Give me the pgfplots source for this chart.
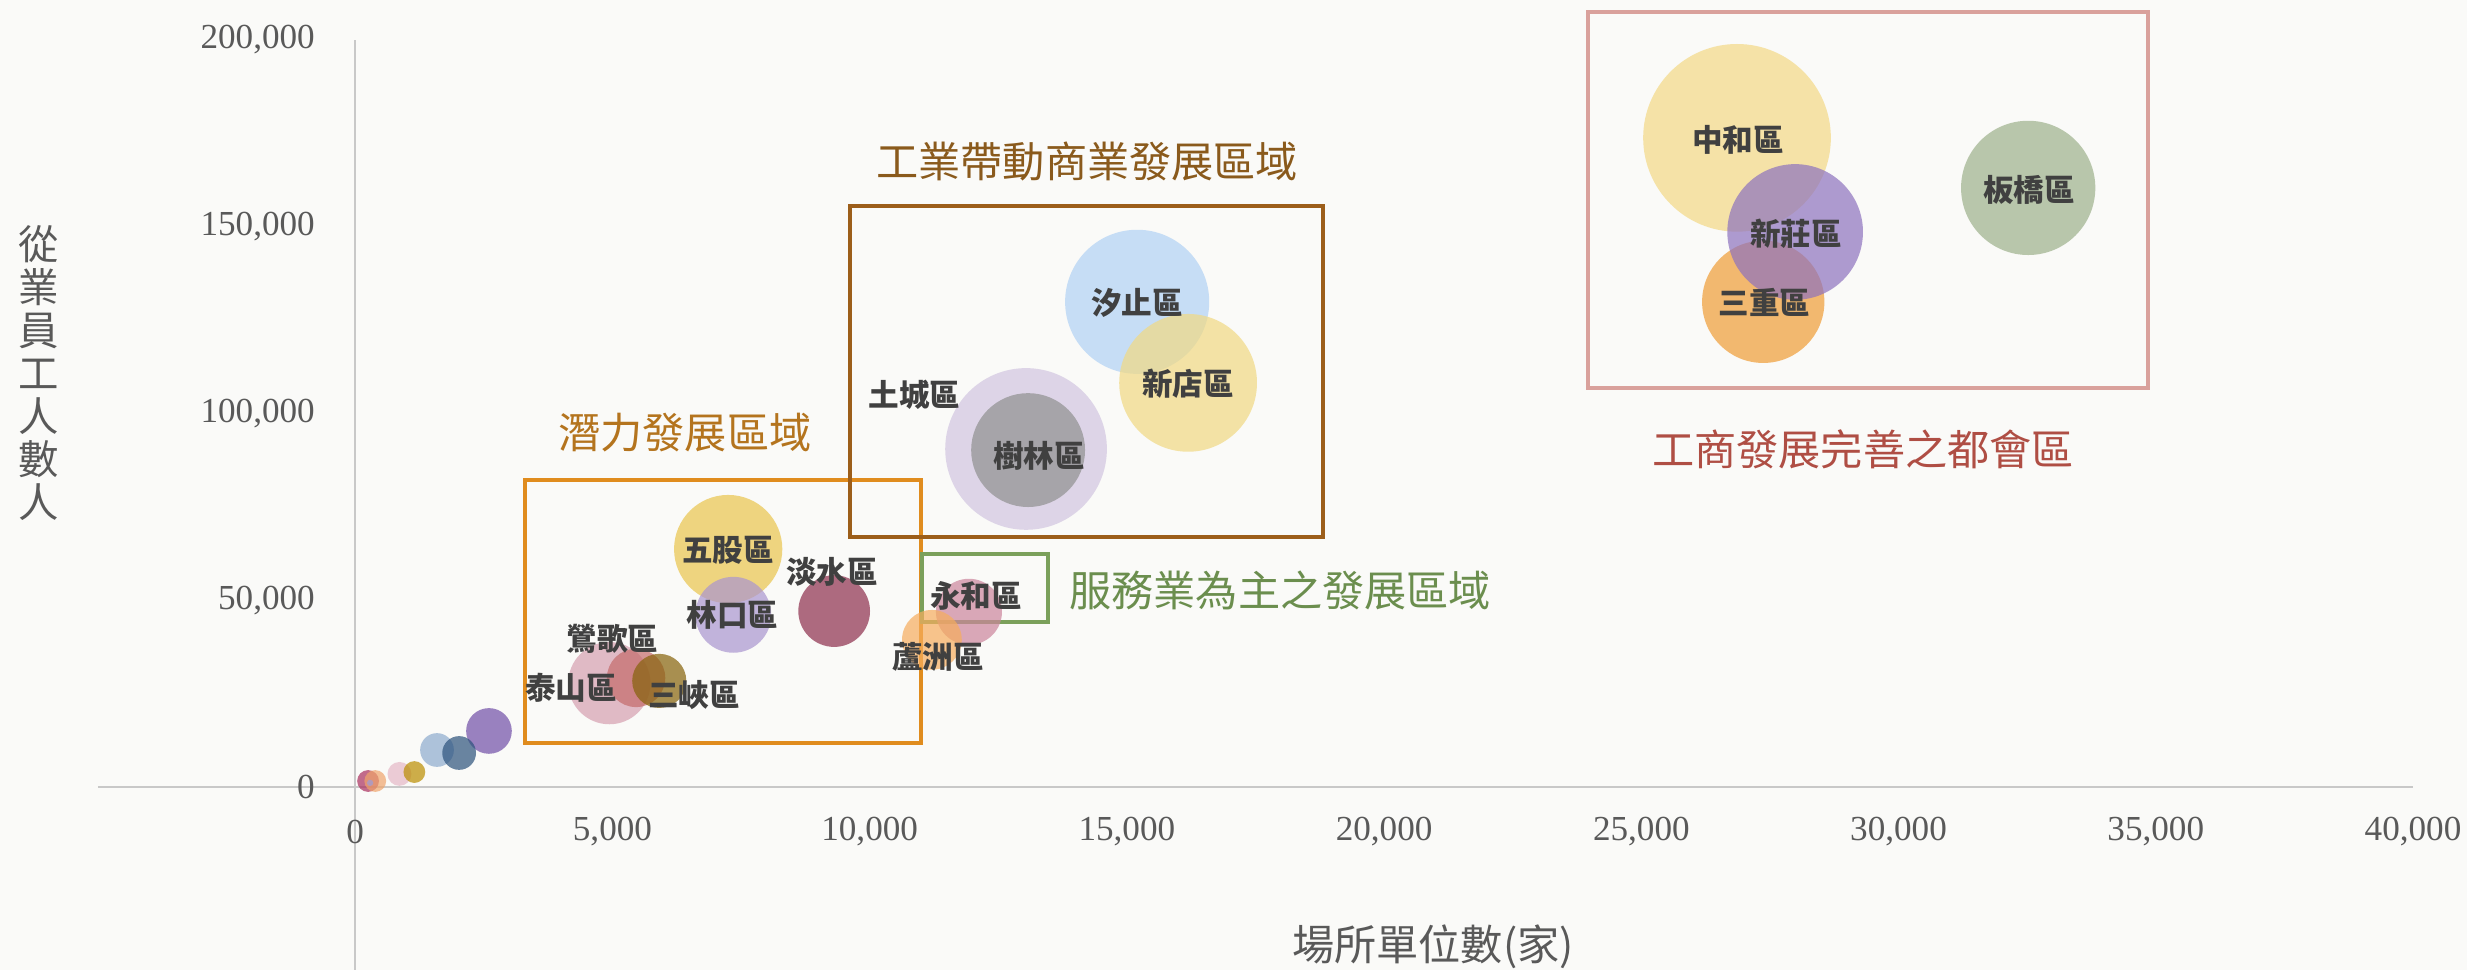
\documentclass[border=0pt]{standalone}
\usepackage{pgfplots}
\pgfplotsset{compat=1.18}
\usepackage{fontspec}
\setmainfont{Liberation Serif}
\newfontfamily\cjk{Noto Sans CJK TC}

\definecolor{bg}{HTML}{FAFAF8}
\definecolor{axisgray}{HTML}{C8C8C8}
\definecolor{txtgray}{HTML}{595959}
\definecolor{lbl}{HTML}{404040}
% region frames and their captions
\definecolor{boxorange}{HTML}{E08C1E}
\definecolor{txtorange}{HTML}{B4741E}
\definecolor{boxbrown}{HTML}{9C5E1A}
\definecolor{txtbrown}{HTML}{8A5A1C}
\definecolor{boxgreen}{HTML}{7BA05B}
\definecolor{txtgreen}{HTML}{6B8E4E}
\definecolor{boxpink}{HTML}{D9A19C}
\definecolor{txtred}{HTML}{AF4E44}
% bubbles (drawn at 70% opacity)
\definecolor{czhonghe}{HTML}{F3D985}
\definecolor{cxinzhuang}{HTML}{8D72BE}
\definecolor{csanchong}{HTML}{F09C35}
\definecolor{cbanqiao}{HTML}{9DB18B}
\definecolor{cxizhi}{HTML}{B0D1F4}
\definecolor{cxindian}{HTML}{F1D982}
\definecolor{ctucheng}{HTML}{D1C5E0}
\definecolor{cshulin}{HTML}{8F908F}
\definecolor{cwugu}{HTML}{EAC54C}
\definecolor{clinkou}{HTML}{AA95CF}
\definecolor{cdanshui}{HTML}{8D2E4C}
\definecolor{cyonghe}{HTML}{CB859C}
\definecolor{cluzhou}{HTML}{F6AD5D}
\definecolor{ctaishan}{HTML}{D69FB0}
\definecolor{cyingge}{HTML}{C46B6B}
\definecolor{csanxia}{HTML}{86620A}
\definecolor{cpurple}{HTML}{714FA7}
\definecolor{cltblue}{HTML}{8DABCE}
\definecolor{cslate}{HTML}{2C527C}
\definecolor{cltpink}{HTML}{E5B8C7}
\definecolor{cgold}{HTML}{BA8D00}
\definecolor{credpink}{HTML}{AA2F5D}
\definecolor{cpeach}{HTML}{EFA46B}
\definecolor{ctiny}{HTML}{9E9EDA}

\begin{document}
\begin{tikzpicture}[
  lab/.style={font=\cjk\bfseries\fontsize{8.7}{10}\selectfont, text=lbl},
  region/.style={font=\cjk\fontsize{12}{14}\selectfont},
]
\useasboundingbox[fill=bg] (-0.98cm,0cm) rectangle (23.69cm,9.70cm);
\begin{axis}[
  scale only axis,
  width=23.15cm, height=9.30cm,
  xmin=-5000, xmax=40000,
  ymin=-49000, ymax=200000,
  axis lines=middle,
  axis line style={draw=axisgray, line width=0.6pt, -},
  every inner x axis line/.append style={-},
  every inner y axis line/.append style={-},
  scaled ticks=false,
  xtick={0,5000,10000,15000,20000,25000,30000,35000,40000},
  xticklabels={0,{5,000},{10,000},{15,000},{20,000},{25,000},{30,000},{35,000},{40,000}},
  ytick={0,50000,100000,150000,200000},
  yticklabels={0,{50,000},{100,000},{150,000},{200,000}},
  major tick length=0pt,
  hide obscured x ticks=false,
  hide obscured y ticks=false,
  tick label style={font=\fontsize{10}{12}\selectfont, text=txtgray},
  xticklabel style={anchor=center, yshift=-0.45cm},
  yticklabel style={anchor=east, xshift=-0.28cm},
  clip=false,
  bub/.style={only marks, mark=*, color=#1,
    mark options={draw=none, draw opacity=0, fill=#1, fill opacity=0.7}},
]

% region frames
\draw[boxorange, line width=1.1pt] (axis cs:3300,11780) rectangle (axis cs:11000,82200);
\draw[boxbrown, line width=1.1pt] (axis cs:9620,66930) rectangle (axis cs:18810,155550);
\draw[boxgreen, line width=1.1pt] (axis cs:11020,44180) rectangle (axis cs:13470,62380);
\draw[boxpink, line width=1.2pt] (axis cs:23970,106830) rectangle (axis cs:34850,207500);

% bubbles: x = establishments, y = employees, mark size = bubble radius
\addplot[bub=czhonghe, mark size=26.7pt] coordinates {(26860,173800)};
\addplot[bub=csanchong, mark size=17.4pt] coordinates {(27370,129900)};
\addplot[bub=cxinzhuang, mark size=19.3pt] coordinates {(27990,148600)};
\addplot[bub=cbanqiao, mark size=19.1pt] coordinates {(32520,160400)};
\addplot[bub=cxizhi, mark size=20.5pt] coordinates {(15200,129900)};
\addplot[bub=cxindian, mark size=19.6pt] coordinates {(16190,108200)};
\addplot[bub=ctucheng, mark size=23.0pt] coordinates {(13040,90500)};
\addplot[bub=cshulin, mark size=16.2pt] coordinates {(13080,90200)};
\addplot[bub=cwugu, mark size=15.4pt] coordinates {(7250,63700)};
\addplot[bub=clinkou, mark size=10.8pt] coordinates {(7350,46100)};
\addplot[bub=cdanshui, mark size=10.2pt] coordinates {(9310,47100)};
\addplot[bub=cyonghe, mark size=9.4pt] coordinates {(11930,46900)};
\addplot[bub=cluzhou, mark size=8.5pt] coordinates {(11210,39400)};
\addplot[bub=ctaishan, mark size=11.7pt] coordinates {(4940,27800)};
\addplot[bub=cyingge, mark size=8.3pt] coordinates {(5460,29200)};
\addplot[bub=csanxia, mark size=7.7pt] coordinates {(5910,28400)};
\addplot[bub=cpurple, mark size=6.5pt] coordinates {(2600,15000)};
\addplot[bub=cltblue, mark size=4.8pt] coordinates {(1590,9900)};
\addplot[bub=cslate, mark size=4.8pt] coordinates {(2020,9100)};
\addplot[bub=cltpink, mark size=3.4pt] coordinates {(860,3500)};
\addplot[bub=cgold, mark size=3.1pt] coordinates {(1150,4000)};
\addplot[bub=credpink, mark size=3.1pt] coordinates {(250,1600)};
\addplot[bub=cpeach, mark size=3.1pt] coordinates {(390,1600)};
\addplot[bub=ctiny, mark size=0.9pt] coordinates {(290,1100)};

% anchor points for the texts, which are set after the axis so they lie on top
\coordinate (zhonghe) at (axis cs:26880,173230);
\coordinate (xinzhuang) at (axis cs:28010,148060);
\coordinate (sanchong) at (axis cs:27390,129850);
\coordinate (banqiao) at (axis cs:32540,159840);
\coordinate (xizhi) at (axis cs:15200,129590);
\coordinate (xindian) at (axis cs:16190,107900);
\coordinate (tucheng) at (axis cs:10870,104950);
\coordinate (shulin) at (axis cs:13290,88620);
\coordinate (wugu) at (axis cs:7250,63450);
\coordinate (linkou) at (axis cs:7330,46050);
\coordinate (danshui) at (axis cs:9270,57560);
\coordinate (yonghe) at (axis cs:12070,51140);
\coordinate (luzhou) at (axis cs:11330,34810);
\coordinate (yingge) at (axis cs:5000,39630);
\coordinate (taishan) at (axis cs:4200,26510);
\coordinate (sanxia) at (axis cs:6590,24630);
\coordinate (rgA) at (axis cs:6410,94780);
\coordinate (rgB) at (axis cs:14230,167340);
\coordinate (rgC) at (axis cs:17980,52740);
\coordinate (rgD) at (axis cs:29310,90500);
\coordinate (ytitle) at (axis cs:-6160,110840);
\coordinate (xtitle) at (axis cs:20950,-42840);
\end{axis}

% bubble labels
\node[lab] at (zhonghe) {中和區};
\node[lab] at (xinzhuang) {新莊區};
\node[lab] at (sanchong) {三重區};
\node[lab] at (banqiao) {板橋區};
\node[lab] at (xizhi) {汐止區};
\node[lab] at (xindian) {新店區};
\node[lab] at (tucheng) {土城區};
\node[lab] at (shulin) {樹林區};
\node[lab] at (wugu) {五股區};
\node[lab] at (linkou) {林口區};
\node[lab] at (danshui) {淡水區};
\node[lab] at (yonghe) {永和區};
\node[lab] at (luzhou) {蘆洲區};
\node[lab] at (yingge) {鶯歌區};
\node[lab] at (taishan) {泰山區};
\node[lab] at (sanxia) {三峽區};

% region captions
\node[region, text=txtorange] at (rgA) {潛力發展區域};
\node[region, text=txtbrown] at (rgB) {工業帶動商業發展區域};
\node[region, text=txtgreen] at (rgC) {服務業為主之發展區域};
\node[region, text=txtred] at (rgD) {工商發展完善之都會區};

% axis titles
\node[font=\cjk\fontsize{11.5}{12.2}\selectfont, text=txtgray, align=center, inner sep=0pt]
  at (ytitle) {從\\業\\員\\工\\人\\數\\人};
\node[font=\cjk\fontsize{12}{14}\selectfont, text=txtgray] at (xtitle) {場所單位數(家)};
\end{tikzpicture}
\end{document}
